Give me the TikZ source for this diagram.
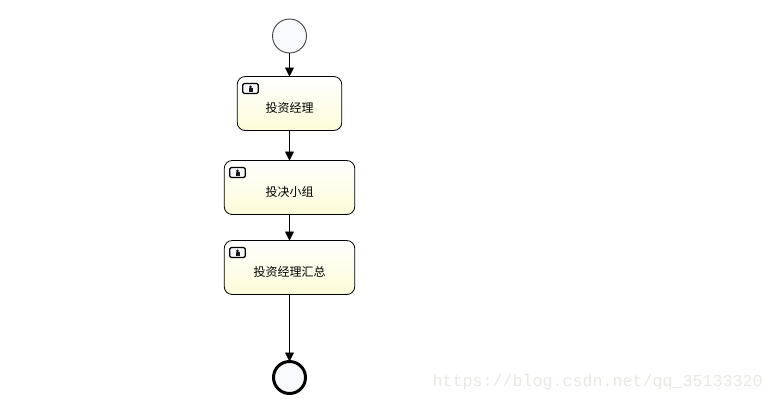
\documentclass[tikz,border=0pt]{standalone}
\usepackage{fontspec}
\setmainfont{Noto Sans CJK SC}
\newfontfamily\markfont{Liberation Mono}
\usetikzlibrary{positioning}
\usetikzlibrary{arrows.meta}
\definecolor{eventfill}{HTML}{F8F9FD}
\definecolor{taskfill}{HTML}{FCFCD8}
\definecolor{markgray}{HTML}{E8E8E3}
\tikzset{startevent/.style={draw=black!75,circle,fill=eventfill,minimum size=34pt,inner sep=0pt,outer sep=0pt,line width=0.9pt},
    endevent/.style={draw=black,circle,fill=eventfill,minimum size=32pt,inner sep=0pt,outer sep=0pt,line width=3pt},
    usertask/.style={draw=black,rounded corners=8pt,top color=white,bottom color=taskfill,minimum height=54pt,inner sep=0pt,outer sep=0pt,line width=0.8pt,text height=18pt,text depth=1pt,font=\fontsize{12pt}{14pt}\selectfont},
    usericon/.style={draw=black,rounded corners=1.5pt,fill=eventfill,minimum width=15.5pt,minimum height=10pt,inner sep=0pt,outer sep=0pt,line width=1.1pt},
    flow/.style={draw,line width=0.9pt,-{Triangle[length=9pt,width=9pt]}},
    person/.style={fill=black!90,inner sep=0pt,outer sep=0pt}}

\begin{document}
\begin{tikzpicture}[x=1pt,y=1pt]
\useasboundingbox[fill=white] (0,0) rectangle (774,-400);
\node[startevent] (start) at (289.5,-36) {};
\node[usertask,minimum width=104.5pt,below=23.5pt of start] (manager) {投资经理};
\node[usertask,minimum width=130.5pt,below=30pt of manager] (group) {投决小组};
\node[usertask,minimum width=130.5pt,below=26pt of group] (summary) {投资经理汇总};
\node[endevent,below=67pt of summary] (end) {};
% person icons
\foreach \task in {manager,group,summary}{
    \node[usericon,below right=7pt and 5.5pt of \task.north west] (\task icon) {};
    \node[person,circle,minimum size=3pt] (\task head) at ([yshift=1.7pt]\task icon.center) {};
    \node[person,minimum width=4pt,minimum height=3.5pt] (\task body) at ([yshift=-1.6pt]\task icon.center) {};
}
\draw[flow] (start) -- (manager);
\draw[flow] (manager) -- (group);
\draw[flow] (group) -- (summary);
\draw[flow] (summary) -- (end);
\node[anchor=base east,text=markgray,font=\markfont\fontsize{16.67pt}{20pt}\selectfont,inner sep=0pt] (mark) at (763,-386) {https://blog.csdn.net/qq\_35133320};
\end{tikzpicture}
\end{document}
